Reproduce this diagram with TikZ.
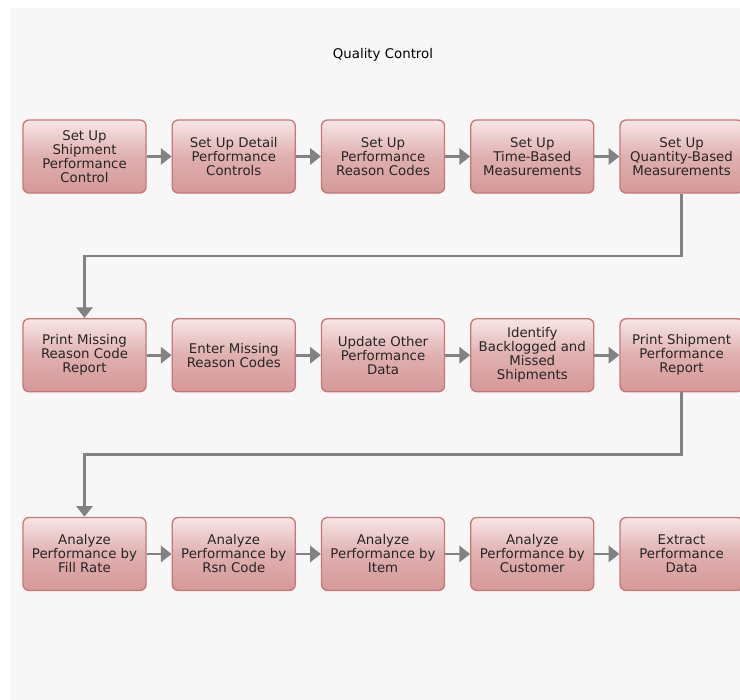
\documentclass[tikz,border=0pt]{standalone}
\usepackage{fontspec}
\setmainfont{DejaVu Sans}
\usetikzlibrary{positioning,arrows.meta,calc}

\definecolor{bgpage}{HTML}{F7F7F7}
\definecolor{boxtop}{HTML}{F7E6E6}
\definecolor{boxbot}{HTML}{D69898}
\definecolor{boxline}{HTML}{C87676}
\definecolor{flowgray}{HTML}{828282}

\begin{document}
\begin{tikzpicture}[
  x=0.75pt, y=-0.75pt,
  font=\fontsize{10pt}{10.5pt}\selectfont,
  tarea/.style={draw=boxline, line width=1pt, rounded corners=4.5pt,
                top color=boxtop, bottom color=boxbot, middle color=boxbot!70!boxtop,
                minimum width=92.25pt, minimum height=54.75pt, inner sep=1pt,
                align=center, text=black!85},
  fl/.style={-{Triangle[length=8pt, width=12pt]}, line width=2.2pt, flowgray},
  codo/.style={-{Triangle[length=8pt, width=12pt]}, line width=2pt, flowgray}
]
\clip (0,0) rectangle (740,700);
\fill[bgpage] (10,8) rectangle (740,700);

\node (titulo) at (383,55) {Quality Control};

% fila 1
\node[tarea] (b1) at (84.5,156.5) {Set Up\\Shipment\\Performance\\Control};
\node[tarea, right=18.7pt of b1] (b2) {Set Up Detail\\Performance\\Controls};
\node[tarea, right=18.7pt of b2] (b3) {Set Up\\Performance\\Reason Codes};
\node[tarea, right=18.7pt of b3] (b4) {Set Up\\Time-Based\\Measurements};
\node[tarea, right=18.7pt of b4] (b5) {Set Up\\Quantity-Based\\Measurements};

% fila 2
\node[tarea, below=93.3pt of b1] (b6) {Print Missing\\Reason Code\\Report};
\node[tarea, right=18.7pt of b6] (b7) {Enter Missing\\Reason Codes};
\node[tarea, right=18.7pt of b7] (b8) {Update Other\\Performance\\Data};
\node[tarea, right=18.7pt of b8] (b9) {Identify\\Backlogged and\\Missed\\Shipments};
\node[tarea, right=18.7pt of b9] (b10) {Print Shipment\\Performance\\Report};

% fila 3
\node[tarea, below=93.3pt of b6] (b11) {Analyze\\Performance by\\Fill Rate};
\node[tarea, right=18.7pt of b11] (b12) {Analyze\\Performance by\\Rsn Code};
\node[tarea, right=18.7pt of b12] (b13) {Analyze\\Performance by\\Item};
\node[tarea, right=18.7pt of b13] (b14) {Analyze\\Performance by\\Customer};
\node[tarea, right=18.7pt of b14] (b15) {Extract\\Performance\\Data};

\foreach \a/\b in {b1/b2, b2/b3, b3/b4, b4/b5, b6/b7, b7/b8, b8/b9, b9/b10,
                   b11/b12, b12/b13, b13/b14, b14/b15}
  \draw[fl] (\a) -- (\b);

\coordinate (c1) at ($(b5.south)!0.5!(b5.south |- b6.north)$);
\coordinate (c2) at ($(b10.south)!0.5!(b10.south |- b11.north)$);
\draw[codo] (b5.south) -- (c1) -| (b6.north);
\draw[codo] (b10.south) -- (c2) -| (b11.north);
\end{tikzpicture}
\end{document}
